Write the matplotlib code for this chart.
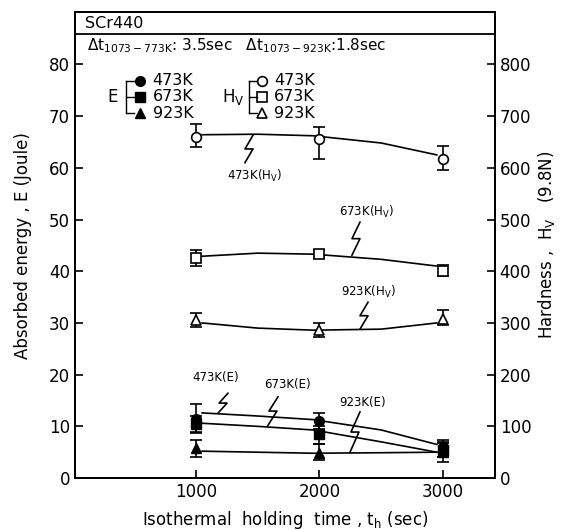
import numpy as np
import matplotlib
matplotlib.use('Agg')
import matplotlib.pyplot as plt

plt.rcParams['font.family'] = 'DejaVu Sans'
plt.rcParams['mathtext.default'] = 'regular'

# holding time (sec)
times = [1000, 2000, 3000]

# absorbed energy E (Joule), filled symbols
E_473 = [11.5, 11.0, 6.0]
E_473_lo = [9.0, 9.5, 4.0]
E_473_hi = [14.3, 12.6, 7.3]
E_673 = [10.5, 8.6, 5.5]
E_673_lo = [8.8, 6.5, 4.0]
E_673_hi = [12.0, 10.0, 7.0]
E_923 = [5.8, 4.9, 5.0]
E_923_lo = [4.1, 3.5, 3.1]
E_923_hi = [7.3, 6.5, 6.8]

# hardness Hv, open symbols
Hv_473 = [660, 656, 617]
Hv_473_lo = [640, 618, 595]
Hv_473_hi = [685, 678, 642]
Hv_673 = [425, 433, 400]
Hv_673_lo = [410, 425, 390]
Hv_673_hi = [442, 442, 412]
Hv_923 = [305, 286, 307]
Hv_923_lo = [292, 273, 296]
Hv_923_hi = [319, 300, 325]

# fitted curves
curve_t = [1050, 1500, 1950, 2500, 2950]
E_473_fit = [12.6, 12.0, 11.3, 9.3, 6.5]
E_673_fit = [10.6, 10.0, 9.3, 7.0, 5.0]
E_923_fit = [5.2, 5.0, 4.8, 4.9, 5.0]
Hv_473_fit = [664, 665, 662, 648, 625]
Hv_673_fit = [429, 435, 433, 423, 410]
Hv_923_fit = [300, 290, 286, 288, 300]

fig = plt.figure(figsize=(5.63, 5.30), dpi=100)
ax = fig.add_axes([0.133, 0.098, 0.746, 0.879])
ax.set_xlim(20, 3420)
ax.set_ylim(0, 90.1)
ax2 = ax.twinx()
ax2.set_ylim(0, 901)

for a in (ax, ax2):
    for s in a.spines.values():
        s.set_linewidth(1.3)

ax.set_xticks(times)
ax.set_yticks(np.arange(0, 81, 10))
ax2.set_yticks(np.arange(0, 801, 100))
ax.tick_params(direction='in', length=6, width=1.2, labelsize=12)
ax2.tick_params(direction='in', length=6, width=1.2, labelsize=12)

# curves
ax.plot(curve_t, E_473_fit, color='k', lw=1.2)
ax.plot(curve_t, E_673_fit, color='k', lw=1.2)
ax.plot(curve_t, E_923_fit, color='k', lw=1.2)
ax2.plot(curve_t, Hv_473_fit, color='k', lw=1.2)
ax2.plot(curve_t, Hv_673_fit, color='k', lw=1.2)
ax2.plot(curve_t, Hv_923_fit, color='k', lw=1.2)


def errs(v, lo, hi):
    return [np.array(v) - np.array(lo), np.array(hi) - np.array(v)]


for v, lo, hi, m in [(E_473, E_473_lo, E_473_hi, 'o'),
                     (E_673, E_673_lo, E_673_hi, 's'),
                     (E_923, E_923_lo, E_923_hi, '^')]:
    ax.errorbar(times, v, yerr=errs(v, lo, hi), fmt=m, color='k', ms=7,
                capsize=4, elinewidth=1.2, capthick=1.2, zorder=4)

for v, lo, hi, m in [(Hv_473, Hv_473_lo, Hv_473_hi, 'o'),
                     (Hv_673, Hv_673_lo, Hv_673_hi, 's'),
                     (Hv_923, Hv_923_lo, Hv_923_hi, '^')]:
    ax2.errorbar(times, v, yerr=errs(v, lo, hi), fmt=m, color='k', mfc='white',
                 ms=7, mew=1.2, capsize=4, elinewidth=1.2, capthick=1.2, zorder=4)

# header
ax.axhline(85.9, color='k', lw=1.3)
ax.text(0.024, 0.976, 'SCr440', transform=ax.transAxes, fontsize=11.5, va='center')
ax.text(0.03, 0.929, r'$\Delta$t$_{1073-773K}$: 3.5sec   $\Delta$t$_{1073-923K}$:1.8sec',
        transform=ax.transAxes, fontsize=11, va='center')

# legend drawn by hand
leg_y = [76.8, 73.7, 70.6]
leg_T = ['473K', '673K', '923K']
for y, m, t in zip(leg_y, ['o', 's', '^'], leg_T):
    ax.plot(547, y, m, color='k', ms=7)
    ax.text(650, y, t, fontsize=11.5, va='center')
    ax.plot(1534, y, m, color='k', mfc='white', ms=7, mew=1.2)
    ax.text(1630, y, t, fontsize=11.5, va='center')
    ax.plot([433, 500], [y, y], color='k', lw=1)
    ax.plot([1430, 1495], [y, y], color='k', lw=1)
ax.plot([433, 433], [leg_y[0], leg_y[2]], color='k', lw=1)
ax.plot([1430, 1430], [leg_y[0], leg_y[2]], color='k', lw=1)
ax.text(287, leg_y[1], 'E', fontsize=12, va='center')
ax.text(1215, leg_y[1], 'H$_V$', fontsize=12, va='center')


def bolt(top, bottom, jog=4):
    # lightning-bolt leader between a label and a curve
    tr = ax.transData
    t = tr.transform(top)
    b = tr.transform(bottom)
    m = t + 0.5 * (b - t)
    pts = np.array([t, m + [-jog, 0], m + [jog, 0], b])
    pts = tr.inverted().transform(pts)
    ax.plot(pts[:, 0], pts[:, 1], color='k', lw=1.2)


# annotations: label position, bolt top, bolt bottom (E units)
notes = [
    ('473K(H$_V$)', (1478, 58.4), (1462, 66.3), (1397, 61.0)),
    ('673K(H$_V$)', (2385, 51.5), (2328, 49.5), (2263, 43.1)),
    ('923K(H$_V$)', (2393, 36.0), (2393, 34.0), (2328, 28.8)),
    ('473K(E)', (1160, 19.5), (1259, 16.4), (1180, 12.6)),
    ('673K(E)', (1737, 18.0), (1664, 15.7), (1583, 10.2)),
    ('923K(E)', (2352, 14.7), (2328, 12.8), (2247, 5.0)),
]
for lab, pos, top, bottom in notes:
    ax.text(pos[0], pos[1], lab, fontsize=8.5, ha='center', va='center')
    bolt(top, bottom)

ax.set_xlabel('Isothermal  holding  time , t$_h$ (sec)', fontsize=12, labelpad=6)
ax.set_ylabel('Absorbed energy , E (Joule)', fontsize=12, labelpad=12)
ax2.set_ylabel('Hardness ,  H$_V$   (9.8N)', fontsize=12, labelpad=3)

fig.savefig('out.png', dpi=100)
